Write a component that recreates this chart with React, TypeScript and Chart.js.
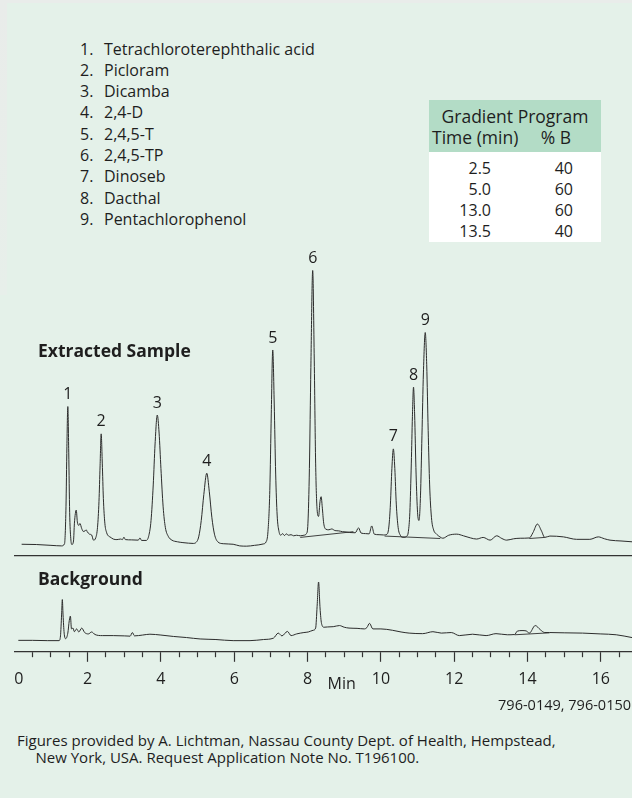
import React, { useEffect, useRef } from 'react';
import { Chart, registerables } from 'chart.js';

Chart.register(...registerables);

// ---------- data ----------
const compounds = [
  'Tetrachloroterephthalic acid',
  'Picloram',
  'Dicamba',
  '2,4-D',
  '2,4,5-T',
  '2,4,5-TP',
  'Dinoseb',
  'Dacthal',
  'Pentachlorophenol',
];

const gradientTimes = ['2.5', '5.0', '13.0', '13.5'];
const gradientPercentB = ['40', '60', '60', '40'];

// Extracted sample chromatogram (time in min, relative response)
const sampleTime = [
  0.2, 0.6, 1.0, 1.29, 1.37, 1.41, 1.435, 1.46, 1.485, 1.51, 1.54, 1.57, 1.615, 1.64, 1.69, 1.72, 1.76, 1.79,
  1.84, 1.88, 1.93, 1.96, 1.99, 2.05, 2.11, 2.16, 2.22, 2.27, 2.31, 2.34, 2.37, 2.4, 2.43, 2.47, 2.52, 2.57,
  2.61, 2.7, 2.8, 2.9, 2.95, 2.99, 3.03, 3.2, 3.38, 3.43, 3.47, 3.6, 3.67, 3.73, 3.79, 3.84, 3.9, 3.95, 4.0,
  4.06, 4.12, 4.2, 4.3, 4.45, 4.6, 4.75, 4.88, 4.96, 5.03, 5.1, 5.17, 5.25, 5.32, 5.39, 5.46, 5.55, 5.7, 5.97,
  6.15, 6.34, 6.55, 6.79, 6.87, 6.92, 6.97, 7.01, 7.05, 7.09, 7.13, 7.17, 7.22, 7.27, 7.32, 7.37, 7.42, 7.48,
  7.55, 7.62, 7.7, 7.8, 7.9, 7.97, 8.01, 8.05, 8.09, 8.14, 8.18, 8.22, 8.26, 8.3, 8.34, 8.37, 8.4, 8.44, 8.5,
  8.58, 8.66, 8.75, 8.85, 8.95, 9.05, 9.15, 9.3, 9.39, 9.46, 9.58, 9.68, 9.75, 9.82, 9.95, 10.07, 10.17, 10.22,
  10.26, 10.3, 10.34, 10.38, 10.42, 10.47, 10.53, 10.61, 10.7, 10.75, 10.79, 10.83, 10.86, 10.89, 10.92, 10.96,
  11.0, 11.04, 11.08, 11.12, 11.16, 11.21, 11.25, 11.29, 11.33, 11.38, 11.44, 11.52, 11.61, 11.69, 11.85, 12.07,
  12.25, 12.45, 12.61, 12.79, 12.98, 13.16, 13.3, 13.43, 13.62, 13.8, 14.05, 14.15, 14.27, 14.38, 14.47, 14.61,
  14.98, 15.34, 15.7, 15.93, 16.1, 16.25, 16.55, 16.85,
];
const sampleSignal = [
  0.3, 0.2, -0.1, -0.3, 0.5, 14, 36, 50.7, 34, 12, 2.5, 0.2, 1.5, 8, 12.8, 8.5, 7.2, 7.9,
  6.0, 5.0, 5.2, 5.6, 4.9, 4.0, 3.7, 1.8, 2.6, 6.5, 16, 29, 40.7, 30, 17, 8, 4.5, 3.3,
  3.0, 2.2, 2.0, 2.2, 2.0, 2.9, 2.0, 1.9, 1.8, 2.6, 1.7, 1.7, 3.5, 9, 22, 37, 47.6, 41, 28,
  14, 6.5, 3.2, 1.8, 1.2, 0.9, 0.7, 0.6, 1.0, 3.0, 9, 18.5, 26.3, 19.5, 10, 4, 1.2, 0.5, 0.3,
  -0.3, -0.4, -0.1, 0.4, 1.2, 5, 20, 48, 71.4, 52, 26, 11, 5, 3.6, 4.2, 3.5, 4.1, 3.6,
  3.8, 3.4, 3.6, 3.4, 3.6, 4.2, 8, 28, 65, 100.5, 70, 30, 13, 10.5, 16, 17.7, 14, 8, 5.8,
  5.6, 5.9, 5.3, 5.2, 4.9, 4.8, 4.6, 4.5, 6.3, 4.4, 4.2, 4.1, 7.0, 4.0, 3.8, 3.7, 4.0, 7,
  15, 28, 35.2, 28, 15, 6.5, 3.6, 2.8, 3.2, 5, 12, 30, 47, 57.8, 48, 26,
  12, 9, 18, 40, 63, 77.8, 66, 42, 22, 10, 5.5, 4.0, 3.0, 2.5, 3.6, 4.0,
  3.4, 2.6, 2.2, 2.8, 1.8, 3.4, 2.4, 1.8, 2.3, 2.5, 2.6, 4.6, 7.7, 5.2, 2.8, 3.3,
  3.0, 2.1, 2.1, 3.0, 2.3, 1.8, 1.5, 1.2,
];

// integrator baselines drawn under the sample peaks (null = break)
const sampleBaseTime = [7.8, 9.25, 9.26, 10.1, 11.62, 11.63, 14.05, 14.47];
const sampleBaseSignal = [2.8, 4.9, null, 3.3, 2.4, null, 2.4, 2.8];

// Background chromatogram
const backgroundTime = [
  0.11, 0.5, 0.9, 1.22, 1.26, 1.29, 1.31, 1.33, 1.36, 1.4, 1.46, 1.5, 1.53, 1.56, 1.6, 1.64, 1.7, 1.76, 1.84,
  1.92, 2.02, 2.11, 2.2, 2.4, 2.7, 3.0, 3.16, 3.22, 3.28, 3.5, 3.7, 4.0, 4.34, 4.7, 5.07, 5.5, 5.97, 6.43,
  6.8, 7.07, 7.2, 7.3, 7.45, 7.55, 7.7, 7.9, 8.02, 8.15, 8.22, 8.26, 8.3, 8.34, 8.38, 8.45, 8.55, 8.7, 8.87,
  9.0, 9.13, 9.35, 9.55, 9.62, 9.69, 9.78, 10.0, 10.32, 10.55, 10.77, 11.14, 11.42, 11.65, 11.92, 12.14, 12.5,
  12.87, 13.14, 13.45, 13.65, 13.72, 13.85, 13.96, 14.05, 14.21, 14.35, 14.47, 14.6, 15.0, 15.5, 16.0, 16.42,
  16.85,
];
const backgroundSignal = [
  -0.1, -0.1, -0.2, -0.2, 1.5, 9, 14.5, 9, 2.5, 0.5, 2.5, 7, 8.6, 4, 4.3, 3.0, 4.0, 2.9, 4.3,
  2.7, 2.2, 2.9, 2.0, 1.6, 1.6, 1.5, 1.4, 2.7, 1.5, 1.8, 2.1, 1.8, 1.3, 0.9, 0.4, 0.2, -0.2, -0.2,
  0.2, 0.7, 2.5, 1.5, 3.1, 1.6, 2.2, 2.7, 2.9, 3.5, 4.3, 12, 20.8, 11.5, 6, 4.6, 4.7, 4.8, 5.2,
  4.6, 4.3, 4.2, 4.0, 4.5, 6.0, 4.0, 4.0, 3.5, 2.9, 2.5, 2.3, 3.0, 2.5, 2.7, 1.6, 2.1,
  1.6, 2.3, 1.9, 2.0, 3.2, 3.4, 3.3, 2.5, 5.2, 3.7, 2.7, 2.7, 2.6, 2.5, 2.2, 1.9,
  0.9,
];
const backgroundBaseTime = [13.65, 14.6];
const backgroundBaseSignal = [1.9, 2.6];

// peak annotations
const peakLabels = ['1', '2', '3', '4', '5', '6', '7', '8', '9'];
const peakTimes = [1.46, 2.37, 3.9, 5.25, 7.05, 8.14, 10.34, 10.89, 11.21];
const peakSignals = [50.7, 40.7, 47.6, 26.3, 71.4, 100.5, 35.2, 57.8, 77.8];

// x axis
const axisMin = 0;
const axisMax = 16.85;
const majorTickLabels = [0, 2, 4, 6, 8, 10, 12, 14, 16];
const minorTickStep = 0.5;
const axisTitle = 'Min';
const axisTitleAt = 8.93;

const FONT = '"Open Sans", "Noto Sans", sans-serif';
const INK = '#1e1e1e';
const TRACE = '#2c2c2c';

const toPoints = (xs: number[], ys: (number | null)[]) => xs.map((x, i) => ({ x, y: ys[i] }));

const peakLabelPlugin = {
  id: 'peakLabels',
  afterDatasetsDraw(chart: any) {
    const { ctx, scales } = chart;
    ctx.save();
    ctx.font = `16px ${FONT}`;
    ctx.fillStyle = INK;
    ctx.textAlign = 'center';
    ctx.textBaseline = 'middle';
    peakLabels.forEach((lab, i) => {
      const px = scales.x.getPixelForValue(peakTimes[i]);
      const py = scales.y.getPixelForValue(peakSignals[i]);
      ctx.fillText(lab, px, py - 12);
    });
    ctx.restore();
  },
};

const axisTitlePlugin = {
  id: 'axisTitleMin',
  afterDraw(chart: any) {
    const { ctx, scales, chartArea } = chart;
    ctx.save();
    ctx.font = `16px ${FONT}`;
    ctx.fillStyle = INK;
    ctx.textAlign = 'center';
    ctx.textBaseline = 'middle';
    ctx.fillText(axisTitle, scales.x.getPixelForValue(axisTitleAt), chartArea.bottom + 33);
    ctx.restore();
  },
};

const isMajor = (v: number) => majorTickLabels.some((m) => Math.abs(m - v) < 1e-6);

function SampleChart() {
  const ref = useRef<HTMLCanvasElement | null>(null);
  useEffect(() => {
    if (!ref.current) return;
    const chart = new Chart(ref.current, {
      type: 'line',
      data: {
        datasets: [
          {
            label: 'Extracted Sample',
            data: toPoints(sampleTime, sampleSignal),
            borderColor: TRACE,
            borderWidth: 1,
            pointRadius: 0,
            cubicInterpolationMode: 'monotone',
          },
          {
            label: 'Baseline',
            data: toPoints(sampleBaseTime, sampleBaseSignal),
            borderColor: TRACE,
            borderWidth: 0.9,
            pointRadius: 0,
            spanGaps: false,
          },
        ],
      },
      options: {
        animation: false,
        responsive: false,
        maintainAspectRatio: false,
        parsing: false,
        layout: { padding: { left: 14.3, right: 0, top: 10, bottom: 4 } },
        plugins: { legend: { display: false }, tooltip: { enabled: false } },
        scales: {
          x: {
            type: 'linear',
            min: axisMin,
            max: axisMax,
            ticks: { display: false },
            grid: { display: false, drawTicks: false },
            border: { display: true, color: '#333', width: 1.2 },
          },
          y: {
            type: 'linear',
            min: -4,
            max: 108,
            display: false,
          },
        },
      } as any,
      plugins: [peakLabelPlugin],
    });
    return () => chart.destroy();
  }, []);
  return (
    <canvas
      ref={ref}
      width={632}
      height={320}
      style={{ position: 'absolute', left: 0, top: 240, width: 632, height: 320 }}
    />
  );
}

function BackgroundChart() {
  const ref = useRef<HTMLCanvasElement | null>(null);
  useEffect(() => {
    if (!ref.current) return;
    const chart = new Chart(ref.current, {
      type: 'line',
      data: {
        datasets: [
          {
            label: 'Background',
            data: toPoints(backgroundTime, backgroundSignal),
            borderColor: TRACE,
            borderWidth: 1,
            pointRadius: 0,
            cubicInterpolationMode: 'monotone',
          },
          {
            label: 'Baseline',
            data: toPoints(backgroundBaseTime, backgroundBaseSignal),
            borderColor: TRACE,
            borderWidth: 0.9,
            pointRadius: 0,
          },
        ],
      },
      options: {
        animation: false,
        responsive: false,
        maintainAspectRatio: false,
        parsing: false,
        layout: { padding: { left: 14.3, right: 0, top: 10, bottom: 13 } },
        plugins: { legend: { display: false }, tooltip: { enabled: false } },
        scales: {
          x: {
            type: 'linear',
            min: axisMin,
            max: axisMax,
            ticks: {
              stepSize: minorTickStep,
              includeBounds: false,
              autoSkip: false,
              maxRotation: 0,
              align: 'inner',
              padding: 8,
              color: INK,
              font: { family: FONT, size: 16 },
              callback: (v: any) => {
                const n = Number(v);
                return isMajor(n) ? String(n) : '';
              },
            },
            grid: {
              display: true,
              drawOnChartArea: false,
              drawTicks: true,
              tickLength: 10,
              tickWidth: 1.2,
              tickColor: (ctx: any) => (ctx.tick && Math.abs(ctx.tick.value) < 1e-6 ? 'rgba(0,0,0,0)' : '#333'),
              tickBorderDash: (ctx: any) => (ctx.tick && isMajor(ctx.tick.value) ? [] : [5, 20]),
            },
            border: { display: true, color: '#333', width: 1.2 },
          },
          y: {
            type: 'linear',
            min: -4.2,
            max: 25.1,
            display: false,
          },
        },
      } as any,
      plugins: [axisTitlePlugin],
    });
    return () => chart.destroy();
  }, []);
  return (
    <canvas
      ref={ref}
      width={632}
      height={150}
      style={{ position: 'absolute', left: 0, top: 560, width: 632, height: 150 }}
    />
  );
}

const abs = (style: React.CSSProperties): React.CSSProperties => ({ position: 'absolute', whiteSpace: 'nowrap', ...style });

export default function App() {
  const listTop = 38.5;
  const listStep = 21.3;
  const rowCenters = [168.3, 189.3, 210.7, 231];
  return (
    <div
      style={{
        position: 'relative',
        width: 632,
        height: 798,
        overflow: 'hidden',
        background: '#e4f1e9',
        fontFamily: FONT,
        color: INK,
      }}
    >
      <style>{`html,body{margin:0;padding:0;}`}</style>
      <div style={abs({ left: 0, top: 0, width: 7, height: 295, background: 'linear-gradient(180deg,#e9ecea,#e7efea)' })} />
      <div style={abs({ left: 0, top: 0, width: 632, height: 3, background: '#e9ecea' })} />

      {compounds.map((c, i) => (
        <div key={c} style={abs({ left: 80, top: listTop + i * listStep, fontSize: 16, lineHeight: `${listStep}px` })}>
          <span style={{ display: 'inline-block', width: 24 }}>{i + 1}.</span>
          <span>{c}</span>
        </div>
      ))}

      {/* gradient table */}
      <div style={abs({ left: 429, top: 100, width: 172, height: 52, background: '#b3dcc6' })} />
      <div style={abs({ left: 429, top: 152, width: 172, height: 90, background: '#ffffff' })} />
      <div style={abs({ left: 429, top: 105, width: 172, textAlign: 'center', fontSize: 17.5, lineHeight: '22px' })}>
        Gradient Program
      </div>
      <div style={abs({ left: 432, top: 126, fontSize: 17.5, lineHeight: '22px' })}>Time (min)</div>
      <div style={abs({ left: 520, top: 126, width: 72, textAlign: 'center', fontSize: 17.5, lineHeight: '22px' })}>
        % B
      </div>
      {gradientTimes.map((t, i) => (
        <React.Fragment key={t}>
          <div style={abs({ left: 440, width: 51, top: rowCenters[i] - 11.5, textAlign: 'right', fontSize: 16, lineHeight: '22px' })}>
            {t}
          </div>
          <div style={abs({ left: 530, width: 43, top: rowCenters[i] - 11.5, textAlign: 'right', fontSize: 16, lineHeight: '22px' })}>
            {gradientPercentB[i]}
          </div>
        </React.Fragment>
      ))}

      <SampleChart />
      <BackgroundChart />

      <div style={abs({ left: 38, top: 339, fontSize: 17.5, fontWeight: 700, lineHeight: '22px' })}>Extracted Sample</div>
      <div style={abs({ left: 38, top: 567, fontSize: 17.5, fontWeight: 700, lineHeight: '22px' })}>Background</div>

      <div style={abs({ right: 1, top: 695, fontSize: 14.5, lineHeight: '20px' })}>796-0149, 796-0150</div>
      <div style={abs({ left: 17, top: 732, fontSize: 15, lineHeight: '17px' })}>
        Figures provided by A. Lichtman, Nassau County Dept. of Health, Hempstead,
      </div>
      <div style={abs({ left: 35.5, top: 749, fontSize: 15, lineHeight: '17px' })}>
        New York, USA. Request Application Note No. T196100.
      </div>
    </div>
  );
}
